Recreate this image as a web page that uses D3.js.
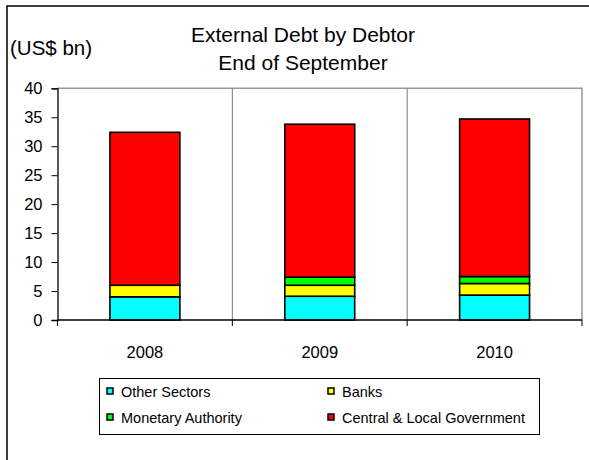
<!DOCTYPE html>
<html>
<head>
<meta charset="utf-8">
<script src="https://cdn.jsdelivr.net/npm/d3@7"></script>
<style>
  html, body { margin: 0; padding: 0; background: #fff; }
  svg { display: block; font-family: "Liberation Sans", Arial, sans-serif; }
</style>
</head>
<body>
<svg id="chart" width="589" height="460"></svg>
<script>
// External debt by debtor, end of September (US$ bn)
const years = ["2008", "2009", "2010"];
const seriesNames = ["Other Sectors", "Banks", "Monetary Authority", "Central & Local Government"];
const otherSectors = [4.0, 4.1, 4.3];
const banks = [2.0, 1.9, 2.0];
const monetaryAuthority = [0.0, 1.4, 1.2];
const centralLocalGov = [26.4, 26.4, 27.2];
const yTicks = [0, 5, 10, 15, 20, 25, 30, 35, 40];
const colors = ["#00FFFF", "#FFFF00", "#00FF00", "#FF0000"];

const svg = d3.select("#chart");

// outer chart frame
svg.append("rect")
  .attr("x", 7).attr("y", 6).attr("width", 620).attr("height", 520)
  .attr("fill", "none").attr("stroke", "#000").attr("stroke-width", 1.5);

const plot = { left: 57.5, right: 582, top: 88.3, bottom: 320 };

const x = d3.scaleBand().domain(years).range([plot.left, plot.right]).padding(0);
const y = d3.scaleLinear().domain([0, 40]).range([plot.bottom, plot.top]);

// titles
svg.append("text").attr("x", 303).attr("y", 42).attr("text-anchor", "middle")
  .attr("font-size", 21).attr("fill", "#000").text("External Debt by Debtor");
svg.append("text").attr("x", 303).attr("y", 70).attr("text-anchor", "middle")
  .attr("font-size", 21).attr("fill", "#000").text("End of September");
svg.append("text").attr("x", 10).attr("y", 55)
  .attr("font-size", 20.5).attr("fill", "#000").text("(US$ bn)");

// plot frame: top and right edges in grey
svg.append("path")
  .attr("d", `M${plot.left},${plot.top}H${plot.right}V${plot.bottom}`)
  .attr("fill", "none").attr("stroke", "#999").attr("stroke-width", 1.5);

// vertical separators between categories
const bounds = years.slice(1).map(d => x(d));
svg.selectAll("line.sep").data(bounds).enter().append("line")
  .attr("class", "sep")
  .attr("x1", d => d).attr("x2", d => d)
  .attr("y1", plot.top).attr("y2", plot.bottom)
  .attr("stroke", "#777").attr("stroke-width", 1);

// stacked data
const rows = years.map((yr, i) => ({
  year: yr,
  "Other Sectors": otherSectors[i],
  "Banks": banks[i],
  "Monetary Authority": monetaryAuthority[i],
  "Central & Local Government": centralLocalGov[i]
}));
const stacked = d3.stack().keys(seriesNames)(rows);

const barW = x.bandwidth() * 0.4;
svg.append("g").selectAll("g").data(stacked).enter().append("g")
  .attr("fill", (d, i) => colors[i])
  .selectAll("rect").data(d => d).enter().append("rect")
  .attr("x", d => x(d.data.year) + (x.bandwidth() - barW) / 2)
  .attr("y", d => y(d[1]))
  .attr("width", barW)
  .attr("height", d => y(d[0]) - y(d[1]))
  .attr("stroke", "#000").attr("stroke-width", 1.6);

// y axis
const yAxis = d3.axisLeft(y).tickValues(yTicks).tickSize(6).tickPadding(9);
const gy = svg.append("g").attr("transform", `translate(${plot.left},0)`).call(yAxis);
gy.select(".domain").attr("stroke", "#000").attr("stroke-width", 1.3);
gy.selectAll(".tick line").attr("stroke", "#000");
gy.selectAll(".tick text").attr("font-size", 16.5).attr("fill", "#000")
  .attr("font-family", "Liberation Sans, Arial, sans-serif");

// x axis: ticks at category boundaries
svg.append("line")
  .attr("x1", plot.left).attr("x2", plot.right)
  .attr("y1", plot.bottom).attr("y2", plot.bottom)
  .attr("stroke", "#000").attr("stroke-width", 1.3);
const edges = [plot.left].concat(bounds, [plot.right]);
svg.selectAll("line.xt").data(edges).enter().append("line")
  .attr("class", "xt")
  .attr("x1", d => d).attr("x2", d => d)
  .attr("y1", plot.bottom).attr("y2", plot.bottom + 6)
  .attr("stroke", "#000").attr("stroke-width", 1);
svg.selectAll("text.xl").data(years).enter().append("text")
  .attr("class", "xl")
  .attr("x", d => x(d) + x.bandwidth() / 2)
  .attr("y", 358)
  .attr("text-anchor", "middle").attr("font-size", 16.5).attr("fill", "#000")
  .text(d => d);

// legend
const lg = svg.append("g");
lg.append("rect").attr("x", 99.5).attr("y", 378.5).attr("width", 440).attr("height", 56)
  .attr("fill", "#fff").attr("stroke", "#000").attr("stroke-width", 1);
const legendPos = [
  { sx: 107, ty: 397 }, { sx: 328, ty: 397 },
  { sx: 107, ty: 423 }, { sx: 328, ty: 423 }
];
const legendOrder = [0, 1, 2, 3];
legendOrder.forEach((si, k) => {
  const p = legendPos[k];
  lg.append("rect").attr("x", p.sx).attr("y", p.ty - 9).attr("width", 6).attr("height", 6)
    .attr("fill", colors[si]).attr("stroke", "#000").attr("stroke-width", 1.5);
  lg.append("text").attr("x", p.sx + 14).attr("y", p.ty)
    .attr("font-size", 14.5).attr("fill", "#000").text(seriesNames[si]);
});
</script>
</body>
</html>
